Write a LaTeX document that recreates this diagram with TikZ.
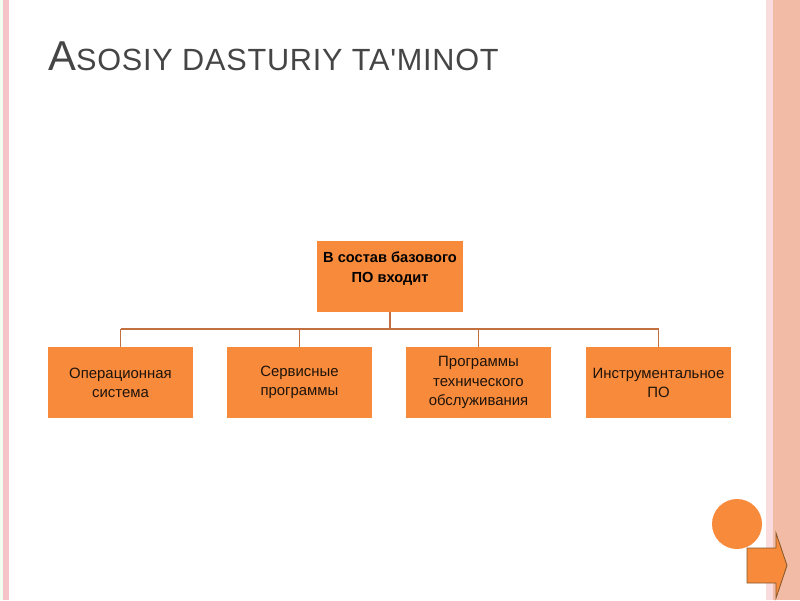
\documentclass[tikz,border=0pt]{standalone}
\usepackage{fontspec}
\setmainfont{Liberation Sans}
\usepackage{tikz}
\usetikzlibrary{calc}
\usepackage{xcolor}
\definecolor{boxorange}{HTML}{F88A3C}
\definecolor{linkbrown}{HTML}{C2703F}
\definecolor{titlegray}{HTML}{454545}
\definecolor{bandsalmon}{HTML}{F2BBA5}
\definecolor{edgepink}{HTML}{F6C4C8}
\tikzset{
  headbox/.style={fill=boxorange, minimum width=3.65cm, minimum height=1.775cm, inner sep=0pt},
  subbox/.style={fill=boxorange, minimum width=3.625cm, minimum height=1.775cm, inner sep=0pt,
    align=center, text=black!85!brown, font=\fontsize{10.6}{13.6}\selectfont},
  link/.style={line width=1.4pt, linkbrown},
}

\begin{document}
\begin{tikzpicture}[x=0.025cm, y=-0.025cm]
  \useasboundingbox (0,0) rectangle (800,600);
  \fill[white] (0,0) rectangle (800,600);
  % --- slide edges ---
  \fill[green!6] (0,0) rectangle (3,600);
  \fill[edgepink] (3,0) rectangle (9,600);
  \fill[edgepink!60] (766,0) rectangle (773,600);
  \fill[bandsalmon] (773,0) rectangle (800,600);

  % --- title ---
  \node[anchor=base west, inner sep=0pt, text=titlegray] (title) at (48,70)
    {\addfontfeatures{LetterSpace=2.5,Ligatures=TeXOff}{\fontsize{29.7}{30}\selectfont A}{\fontsize{21.8}{22}\selectfont SOSIY DASTURIY TA'MINOT}};

  % --- boxes ---
  \node[headbox, label={[yshift=0.2cm, align=center, font=\fontsize{10.4}{14}\selectfont\bfseries]center:В состав базового\\ПО входит}] (base) at (390,276.5) {};
  \node[subbox] (os)   at (120.5,382.5) {Операционная\\система};
  \node[subbox] (serv) at (299.5,382.5) {Сервисные\\программы};
  \node[subbox] (tech) at (478.5,382.5) {Программы\\технического\\обслуживания};
  \node[subbox] (inst) at (658.5,382.5) {Инструментальное\\ПО};

  % --- connectors ---
  \coordinate (bus) at (390,329);
  \draw[link] (base.south) -- (bus);
  \draw[link] (bus -| os.north) -- (bus -| inst.north);
  \foreach \kid in {os,serv,tech,inst}{ \draw[link] (bus -| \kid.north) -- (\kid.north); }

  % --- navigation ---
  \fill[boxorange] (737,524) circle (25);
  \begin{scope}
    \clip (0,0) rectangle (800,600);
    \filldraw[fill=boxorange, draw=brown!70!black, line width=0.6pt]
      (747,548) -- (776,548) -- (776,533) -- (787,565.5) -- (776,598) -- (776,583) -- (747,583) -- cycle;
  \end{scope}
\end{tikzpicture}
\end{document}
